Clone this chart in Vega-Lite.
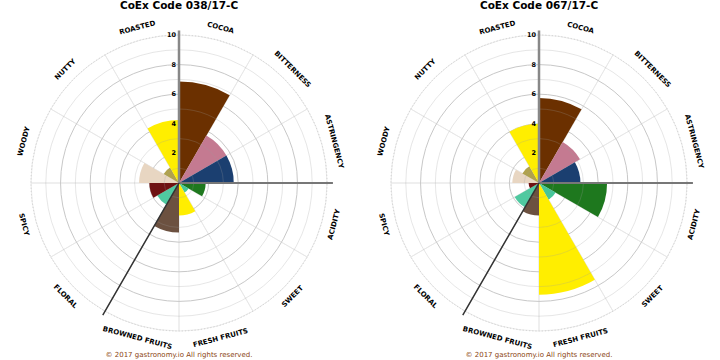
{
  "$schema": "https://vega.github.io/schema/vega-lite/v6.json",
  "background": "white",
  "padding": 0,
  "spacing": 2,
  "config": {"view": {"stroke": null}, "font": "DejaVu Sans"},
  "datasets": {
    "flavors": [
      {"sample": "038/17-C", "attr": "COCOA", "value": 6.85},
      {"sample": "038/17-C", "attr": "BITTERNESS", "value": 3.7},
      {"sample": "038/17-C", "attr": "ASTRINGENCY", "value": 3.7},
      {"sample": "038/17-C", "attr": "ACIDITY", "value": 1.8},
      {"sample": "038/17-C", "attr": "SWEET", "value": 0.75},
      {"sample": "038/17-C", "attr": "FRESH FRUITS", "value": 2.2},
      {"sample": "038/17-C", "attr": "BROWNED FRUITS", "value": 3.35},
      {"sample": "038/17-C", "attr": "FLORAL", "value": 1.7},
      {"sample": "038/17-C", "attr": "SPICY", "value": 2.0},
      {"sample": "038/17-C", "attr": "WOODY", "value": 2.7},
      {"sample": "038/17-C", "attr": "NUTTY", "value": 1.2},
      {"sample": "038/17-C", "attr": "ROASTED", "value": 4.25},
      {"sample": "067/17-C", "attr": "COCOA", "value": 5.75},
      {"sample": "067/17-C", "attr": "BITTERNESS", "value": 3.2},
      {"sample": "067/17-C", "attr": "ASTRINGENCY", "value": 2.8},
      {"sample": "067/17-C", "attr": "ACIDITY", "value": 4.6},
      {"sample": "067/17-C", "attr": "SWEET", "value": 1.3},
      {"sample": "067/17-C", "attr": "FRESH FRUITS", "value": 7.55},
      {"sample": "067/17-C", "attr": "BROWNED FRUITS", "value": 2.2},
      {"sample": "067/17-C", "attr": "FLORAL", "value": 1.9},
      {"sample": "067/17-C", "attr": "SPICY", "value": 0.7},
      {"sample": "067/17-C", "attr": "WOODY", "value": 1.8},
      {"sample": "067/17-C", "attr": "NUTTY", "value": 1.3},
      {"sample": "067/17-C", "attr": "ROASTED", "value": 4.0}
    ],
    "grid": [{"r": 1}, {"r": 2}, {"r": 3}, {"r": 4}, {"r": 5}, {"r": 6}, {"r": 7}, {"r": 8}, {"r": 9}, {"r": 10}],
    "ticks": [{"r": 2}, {"r": 4}, {"r": 6}, {"r": 8}, {"r": 10}]
  },
  "hconcat": [
    {
      "width": 358,
      "height": 366,
      "resolve": {"scale": {"theta": "independent"}},
      "layer": [
        {
          "data": {"name": "flavors"},
          "transform": [{"filter": "datum.sample === '038/17-C'"}],
          "mark": {"type": "arc", "filled": false, "stroke": "#e6e6e6", "strokeWidth": 0.8},
          "encoding": {
            "theta": {"field": "attr", "type": "nominal", "sort": ["COCOA","BITTERNESS","ASTRINGENCY","ACIDITY","SWEET","FRESH FRUITS","BROWNED FRUITS","FLORAL","SPICY","WOODY","NUTTY","ROASTED"], "scale": {"paddingInner": 0, "paddingOuter": 0}},
            "radius": {"datum": 10, "type": "quantitative", "scale": {"type": "linear", "domain": [0, 10], "range": [0, 148], "zero": true}}
          }
        },
        {
          "data": {"name": "grid"},
          "transform": [{"filter": {"field": "r", "oneOf": [2, 4, 6, 8]}}],
          "mark": {"type": "arc", "filled": false, "stroke": "#c8c8c8", "strokeWidth": 1},
          "encoding": {
            "theta": {"datum": 0, "type": "quantitative", "scale": {"domain": [0, 360]}},
            "theta2": {"datum": 360},
            "radius": {"field": "r", "type": "quantitative", "stack": null, "scale": {"type": "linear", "domain": [0, 10], "range": [0, 148], "zero": true}}
          }
        },
        {
          "data": {"name": "flavors"},
          "transform": [{"filter": "datum.sample === '038/17-C'"}],
          "mark": {"type": "arc", "stroke": null},
          "encoding": {
            "theta": {"field": "attr", "type": "nominal", "sort": ["COCOA","BITTERNESS","ASTRINGENCY","ACIDITY","SWEET","FRESH FRUITS","BROWNED FRUITS","FLORAL","SPICY","WOODY","NUTTY","ROASTED"], "scale": {"paddingInner": 0, "paddingOuter": 0}},
            "radius": {"field": "value", "type": "quantitative", "stack": null, "scale": {"type": "linear", "domain": [0, 10], "range": [0, 148], "zero": true}},
            "color": {"field": "attr", "type": "nominal", "legend": null, "scale": {"domain": ["COCOA","BITTERNESS","ASTRINGENCY","ACIDITY","SWEET","FRESH FRUITS","BROWNED FRUITS","FLORAL","SPICY","WOODY","NUTTY","ROASTED"], "range": ["#6b3000","#c47a91","#1b3f70","#1e781e","#46c79a","#ffee00","#6c5140","#4fc9a0","#6e1212","#e8d6c2","#b0a24e","#ffee00"]}}
          }
        },
        {
          "data": {"name": "grid"},
          "transform": [{"filter": {"field": "r", "oneOf": [1, 3, 5, 7, 9]}}],
          "mark": {"type": "arc", "filled": false, "stroke": "#9a9a9a", "strokeOpacity": 0.25, "strokeWidth": 1},
          "encoding": {
            "theta": {"datum": 0, "type": "quantitative", "scale": {"domain": [0, 360]}},
            "theta2": {"datum": 360},
            "radius": {"field": "r", "type": "quantitative", "stack": null, "scale": {"type": "linear", "domain": [0, 10], "range": [0, 148], "zero": true}}
          }
        },
        {
          "data": {"name": "grid"},
          "transform": [{"filter": {"field": "r", "oneOf": [10]}}],
          "mark": {"type": "arc", "filled": false, "stroke": "#cfcfcf", "strokeDash": [1.2, 2], "strokeWidth": 1},
          "encoding": {
            "theta": {"datum": 0, "type": "quantitative", "scale": {"domain": [0, 360]}},
            "theta2": {"datum": 360},
            "radius": {"field": "r", "type": "quantitative", "stack": null, "scale": {"type": "linear", "domain": [0, 10], "range": [0, 148], "zero": true}}
          }
        },
        {
          "data": {"values": [{}]},
          "mark": {"type": "arc", "filled": false, "stroke": "#888888", "strokeWidth": 2.5},
          "encoding": {
            "theta": {"datum": 0, "type": "quantitative", "scale": {"domain": [0, 360]}},
            "theta2": {"datum": 0},
            "radius": {"datum": 10.3, "type": "quantitative", "scale": {"type": "linear", "domain": [0, 10], "range": [0, 148], "zero": true}}
          }
        },
        {
          "data": {"values": [{}]},
          "mark": {"type": "arc", "filled": false, "stroke": "#777777", "strokeWidth": 2},
          "encoding": {
            "theta": {"datum": 90, "type": "quantitative", "scale": {"domain": [0, 360]}},
            "theta2": {"datum": 90},
            "radius": {"datum": 10.4, "type": "quantitative", "scale": {"type": "linear", "domain": [0, 10], "range": [0, 148], "zero": true}}
          }
        },
        {
          "data": {"values": [{}]},
          "mark": {"type": "arc", "filled": false, "stroke": "#333333", "strokeWidth": 1.5},
          "encoding": {
            "theta": {"datum": 210, "type": "quantitative", "scale": {"domain": [0, 360]}},
            "theta2": {"datum": 210},
            "radius": {"datum": 10.3, "type": "quantitative", "scale": {"type": "linear", "domain": [0, 10], "range": [0, 148], "zero": true}}
          }
        },
        {
          "data": {"name": "flavors"},
          "transform": [{"filter": "datum.sample === '038/17-C'"}],
          "mark": {"type": "text", "font": "DejaVu Sans", "fontSize": 7, "fontWeight": "bold", "align": "center", "baseline": "middle", "fill": "#000000"},
          "encoding": {
            "theta": {"field": "attr", "type": "nominal", "sort": ["COCOA","BITTERNESS","ASTRINGENCY","ACIDITY","SWEET","FRESH FRUITS","BROWNED FRUITS","FLORAL","SPICY","WOODY","NUTTY","ROASTED"], "scale": {"type": "point", "padding": 0.5}},
            "radius": {"datum": 10.85, "type": "quantitative", "scale": {"type": "linear", "domain": [0, 10], "range": [0, 148], "zero": true}},
            "angle": {"field": "attr", "type": "nominal", "scale": {"type": "ordinal", "domain": ["COCOA","BITTERNESS","ASTRINGENCY","ACIDITY","SWEET","FRESH FRUITS","BROWNED FRUITS","FLORAL","SPICY","WOODY","NUTTY","ROASTED"], "range": [15, 45, 75, -75, -45, -15, 15, 45, 75, -75, -45, -15]}},
            "text": {"field": "attr"}
          }
        },
        {
          "data": {"name": "ticks"},
          "mark": {"type": "text", "font": "DejaVu Sans", "fontSize": 6.5, "fontWeight": "bold", "align": "right", "baseline": "middle", "dx": -3, "fill": "#000000"},
          "encoding": {
            "theta": {"datum": 0, "type": "quantitative", "scale": {"domain": [0, 360]}},
            "radius": {"field": "r", "type": "quantitative", "stack": null, "scale": {"type": "linear", "domain": [0, 10], "range": [0, 148], "zero": true}},
            "text": {"field": "r"}
          }
        },
        {
          "data": {"values": [{"t": "CoEx Code 038/17-C"}]},
          "mark": {"type": "text", "font": "DejaVu Sans", "fontSize": 10.5, "fontWeight": "bold", "align": "center", "baseline": "middle", "fill": "#000000"},
          "encoding": {
            "theta": {"datum": 0, "type": "quantitative", "scale": {"domain": [0, 360]}},
            "radius": {"datum": 11.95, "type": "quantitative", "scale": {"type": "linear", "domain": [0, 10], "range": [0, 148], "zero": true}},
            "text": {"field": "t"}
          }
        },
        {
          "data": {"values": [{"t": "© 2017 gastronomy.io All rights reserved."}]},
          "mark": {"type": "text", "font": "DejaVu Sans", "fontSize": 7, "align": "center", "baseline": "middle", "fill": "#8b4513"},
          "encoding": {
            "theta": {"datum": 180, "type": "quantitative", "scale": {"domain": [0, 360]}},
            "radius": {"datum": 11.6, "type": "quantitative", "scale": {"type": "linear", "domain": [0, 10], "range": [0, 148], "zero": true}},
            "text": {"field": "t"}
          }
        }
      ]
    },
    {
      "width": 358,
      "height": 366,
      "resolve": {"scale": {"theta": "independent"}},
      "layer": [
        {
          "data": {"name": "flavors"},
          "transform": [{"filter": "datum.sample === '067/17-C'"}],
          "mark": {"type": "arc", "filled": false, "stroke": "#e6e6e6", "strokeWidth": 0.8},
          "encoding": {
            "theta": {"field": "attr", "type": "nominal", "sort": ["COCOA","BITTERNESS","ASTRINGENCY","ACIDITY","SWEET","FRESH FRUITS","BROWNED FRUITS","FLORAL","SPICY","WOODY","NUTTY","ROASTED"], "scale": {"paddingInner": 0, "paddingOuter": 0}},
            "radius": {"datum": 10, "type": "quantitative", "scale": {"type": "linear", "domain": [0, 10], "range": [0, 148], "zero": true}}
          }
        },
        {
          "data": {"name": "grid"},
          "transform": [{"filter": {"field": "r", "oneOf": [2, 4, 6, 8]}}],
          "mark": {"type": "arc", "filled": false, "stroke": "#c8c8c8", "strokeWidth": 1},
          "encoding": {
            "theta": {"datum": 0, "type": "quantitative", "scale": {"domain": [0, 360]}},
            "theta2": {"datum": 360},
            "radius": {"field": "r", "type": "quantitative", "stack": null, "scale": {"type": "linear", "domain": [0, 10], "range": [0, 148], "zero": true}}
          }
        },
        {
          "data": {"name": "flavors"},
          "transform": [{"filter": "datum.sample === '067/17-C'"}],
          "mark": {"type": "arc", "stroke": null},
          "encoding": {
            "theta": {"field": "attr", "type": "nominal", "sort": ["COCOA","BITTERNESS","ASTRINGENCY","ACIDITY","SWEET","FRESH FRUITS","BROWNED FRUITS","FLORAL","SPICY","WOODY","NUTTY","ROASTED"], "scale": {"paddingInner": 0, "paddingOuter": 0}},
            "radius": {"field": "value", "type": "quantitative", "stack": null, "scale": {"type": "linear", "domain": [0, 10], "range": [0, 148], "zero": true}},
            "color": {"field": "attr", "type": "nominal", "legend": null, "scale": {"domain": ["COCOA","BITTERNESS","ASTRINGENCY","ACIDITY","SWEET","FRESH FRUITS","BROWNED FRUITS","FLORAL","SPICY","WOODY","NUTTY","ROASTED"], "range": ["#6b3000","#c47a91","#1b3f70","#1e781e","#46c79a","#ffee00","#6c5140","#4fc9a0","#6e1212","#e8d6c2","#b0a24e","#ffee00"]}}
          }
        },
        {
          "data": {"name": "grid"},
          "transform": [{"filter": {"field": "r", "oneOf": [1, 3, 5, 7, 9]}}],
          "mark": {"type": "arc", "filled": false, "stroke": "#9a9a9a", "strokeOpacity": 0.25, "strokeWidth": 1},
          "encoding": {
            "theta": {"datum": 0, "type": "quantitative", "scale": {"domain": [0, 360]}},
            "theta2": {"datum": 360},
            "radius": {"field": "r", "type": "quantitative", "stack": null, "scale": {"type": "linear", "domain": [0, 10], "range": [0, 148], "zero": true}}
          }
        },
        {
          "data": {"name": "grid"},
          "transform": [{"filter": {"field": "r", "oneOf": [10]}}],
          "mark": {"type": "arc", "filled": false, "stroke": "#cfcfcf", "strokeDash": [1.2, 2], "strokeWidth": 1},
          "encoding": {
            "theta": {"datum": 0, "type": "quantitative", "scale": {"domain": [0, 360]}},
            "theta2": {"datum": 360},
            "radius": {"field": "r", "type": "quantitative", "stack": null, "scale": {"type": "linear", "domain": [0, 10], "range": [0, 148], "zero": true}}
          }
        },
        {
          "data": {"values": [{}]},
          "mark": {"type": "arc", "filled": false, "stroke": "#888888", "strokeWidth": 2.5},
          "encoding": {
            "theta": {"datum": 0, "type": "quantitative", "scale": {"domain": [0, 360]}},
            "theta2": {"datum": 0},
            "radius": {"datum": 10.3, "type": "quantitative", "scale": {"type": "linear", "domain": [0, 10], "range": [0, 148], "zero": true}}
          }
        },
        {
          "data": {"values": [{}]},
          "mark": {"type": "arc", "filled": false, "stroke": "#777777", "strokeWidth": 2},
          "encoding": {
            "theta": {"datum": 90, "type": "quantitative", "scale": {"domain": [0, 360]}},
            "theta2": {"datum": 90},
            "radius": {"datum": 10.4, "type": "quantitative", "scale": {"type": "linear", "domain": [0, 10], "range": [0, 148], "zero": true}}
          }
        },
        {
          "data": {"values": [{}]},
          "mark": {"type": "arc", "filled": false, "stroke": "#333333", "strokeWidth": 1.5},
          "encoding": {
            "theta": {"datum": 210, "type": "quantitative", "scale": {"domain": [0, 360]}},
            "theta2": {"datum": 210},
            "radius": {"datum": 10.3, "type": "quantitative", "scale": {"type": "linear", "domain": [0, 10], "range": [0, 148], "zero": true}}
          }
        },
        {
          "data": {"name": "flavors"},
          "transform": [{"filter": "datum.sample === '067/17-C'"}],
          "mark": {"type": "text", "font": "DejaVu Sans", "fontSize": 7, "fontWeight": "bold", "align": "center", "baseline": "middle", "fill": "#000000"},
          "encoding": {
            "theta": {"field": "attr", "type": "nominal", "sort": ["COCOA","BITTERNESS","ASTRINGENCY","ACIDITY","SWEET","FRESH FRUITS","BROWNED FRUITS","FLORAL","SPICY","WOODY","NUTTY","ROASTED"], "scale": {"type": "point", "padding": 0.5}},
            "radius": {"datum": 10.85, "type": "quantitative", "scale": {"type": "linear", "domain": [0, 10], "range": [0, 148], "zero": true}},
            "angle": {"field": "attr", "type": "nominal", "scale": {"type": "ordinal", "domain": ["COCOA","BITTERNESS","ASTRINGENCY","ACIDITY","SWEET","FRESH FRUITS","BROWNED FRUITS","FLORAL","SPICY","WOODY","NUTTY","ROASTED"], "range": [15, 45, 75, -75, -45, -15, 15, 45, 75, -75, -45, -15]}},
            "text": {"field": "attr"}
          }
        },
        {
          "data": {"name": "ticks"},
          "mark": {"type": "text", "font": "DejaVu Sans", "fontSize": 6.5, "fontWeight": "bold", "align": "right", "baseline": "middle", "dx": -3, "fill": "#000000"},
          "encoding": {
            "theta": {"datum": 0, "type": "quantitative", "scale": {"domain": [0, 360]}},
            "radius": {"field": "r", "type": "quantitative", "stack": null, "scale": {"type": "linear", "domain": [0, 10], "range": [0, 148], "zero": true}},
            "text": {"field": "r"}
          }
        },
        {
          "data": {"values": [{"t": "CoEx Code 067/17-C"}]},
          "mark": {"type": "text", "font": "DejaVu Sans", "fontSize": 10.5, "fontWeight": "bold", "align": "center", "baseline": "middle", "fill": "#000000"},
          "encoding": {
            "theta": {"datum": 0, "type": "quantitative", "scale": {"domain": [0, 360]}},
            "radius": {"datum": 11.95, "type": "quantitative", "scale": {"type": "linear", "domain": [0, 10], "range": [0, 148], "zero": true}},
            "text": {"field": "t"}
          }
        },
        {
          "data": {"values": [{"t": "© 2017 gastronomy.io All rights reserved."}]},
          "mark": {"type": "text", "font": "DejaVu Sans", "fontSize": 7, "align": "center", "baseline": "middle", "fill": "#8b4513"},
          "encoding": {
            "theta": {"datum": 180, "type": "quantitative", "scale": {"domain": [0, 360]}},
            "radius": {"datum": 11.6, "type": "quantitative", "scale": {"type": "linear", "domain": [0, 10], "range": [0, 148], "zero": true}},
            "text": {"field": "t"}
          }
        }
      ]
    }
  ]
}
